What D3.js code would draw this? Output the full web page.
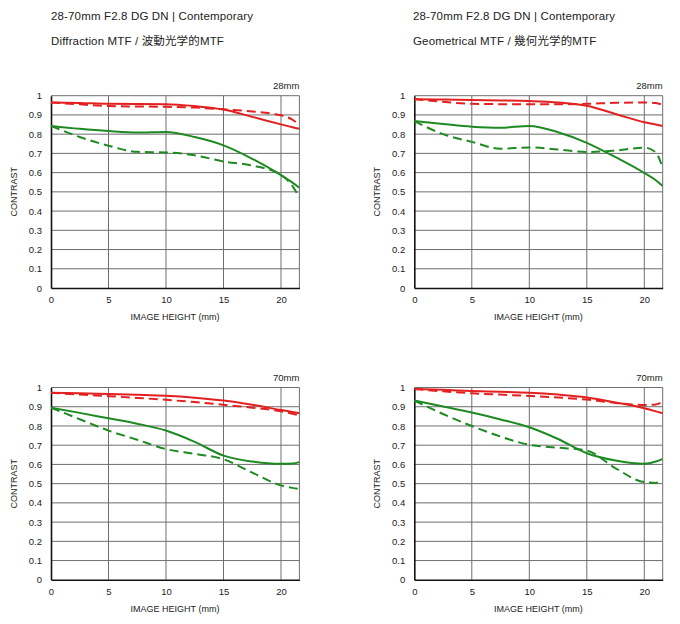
<!DOCTYPE html>
<html><head><meta charset="utf-8">
<script src="https://cdn.jsdelivr.net/npm/d3@7"></script>
<style>
body{margin:0;background:#fff;}
svg{display:block;}
text{font-family:"Liberation Sans",Arial,sans-serif;fill:#222;}
</style></head>
<body><svg id="c" width="680" height="624"></svg>
<script>
// ---- data ----
const lensTitle = "28-70mm F2.8 DG DN | Contemporary";
const panelTitles = ["Diffraction MTF / 波動光学的MTF", "Geometrical MTF / 幾何光学的MTF",
                     "", ""];
const focalLabels = ["28mm", "28mm", "70mm", "70mm"];
const xTicks = [0, 5, 10, 15, 20];
const yTicks = [0, 0.1, 0.2, 0.3, 0.4, 0.5, 0.6, 0.7, 0.8, 0.9, 1];
const xMax = 21.6;

// x positions (mm) for the sampled points
const xs = [0, 2.5, 5, 7.5, 10, 12.5, 15, 17.5, 20, 21, 21.6];

// Panel 1: Diffraction 28mm
const d28_red_solid   = [0.965, 0.962, 0.958, 0.957, 0.956, 0.946, 0.928, 0.89, 0.851, 0.836, 0.828];
const d28_red_dash    = [0.965, 0.955, 0.946, 0.944, 0.942, 0.938, 0.929, 0.918, 0.898, 0.875, 0.848];
const d28_green_solid = [0.843, 0.828, 0.816, 0.808, 0.811, 0.785, 0.742, 0.672, 0.587, 0.548, 0.521];
const d28_green_dash  = [0.843, 0.785, 0.74, 0.708, 0.705, 0.69, 0.658, 0.637, 0.588, 0.53, 0.47];
// Panel 2: Geometrical 28mm
const g28_red_solid   = [0.982, 0.98, 0.977, 0.975, 0.972, 0.965, 0.948, 0.905, 0.862, 0.85, 0.842];
const g28_red_dash    = [0.982, 0.968, 0.958, 0.956, 0.955, 0.955, 0.958, 0.963, 0.965, 0.962, 0.952];
const g28_green_solid = [0.868, 0.853, 0.839, 0.833, 0.843, 0.81, 0.755, 0.68, 0.598, 0.56, 0.53];
const g28_green_dash  = [0.868, 0.8, 0.76, 0.724, 0.731, 0.72, 0.707, 0.715, 0.73, 0.705, 0.622];
// Panel 3: Diffraction 70mm
const d70_red_solid   = [0.973, 0.97, 0.966, 0.962, 0.957, 0.947, 0.932, 0.91, 0.883, 0.873, 0.866];
const d70_red_dash    = [0.973, 0.963, 0.955, 0.946, 0.936, 0.924, 0.91, 0.895, 0.876, 0.864, 0.855];
const d70_green_solid = [0.895, 0.868, 0.84, 0.812, 0.776, 0.717, 0.646, 0.615, 0.603, 0.605, 0.612];
const d70_green_dash  = [0.895, 0.835, 0.776, 0.728, 0.68, 0.655, 0.627, 0.557, 0.491, 0.478, 0.472];
// Panel 4: Geometrical 70mm
const g70_red_solid   = [0.992, 0.988, 0.982, 0.978, 0.973, 0.963, 0.948, 0.922, 0.892, 0.876, 0.866];
const g70_red_dash    = [0.992, 0.98, 0.97, 0.963, 0.956, 0.948, 0.937, 0.92, 0.909, 0.912, 0.926];
const g70_green_solid = [0.932, 0.901, 0.87, 0.834, 0.793, 0.732, 0.658, 0.62, 0.603, 0.615, 0.629];
const g70_green_dash  = [0.932, 0.862, 0.8, 0.745, 0.702, 0.687, 0.672, 0.58, 0.508, 0.504, 0.52];

const panelSeries = [
  [d28_red_solid, d28_red_dash, d28_green_solid, d28_green_dash],
  [g28_red_solid, g28_red_dash, g28_green_solid, g28_green_dash],
  [d70_red_solid, d70_red_dash, d70_green_solid, d70_green_dash],
  [g70_red_solid, g70_red_dash, g70_green_solid, g70_green_dash]
];
const seriesColors = ["#e3201f", "#e3201f", "#1e8a22", "#1e8a22"];
const seriesDash = [null, "9,5", null, "9,5"];

// ---- layout ----
const panelX = [51, 414.3, 51, 414.3];
const panelY = [95.7, 95.7, 387.5, 387.5];
const pw = 248.4, ph = 192.3;

const svg = d3.select("#c");

// titles
[51, 413].forEach((tx, i) => {
  svg.append("text").attr("x", tx).attr("y", 19.5).attr("font-size", 11.5)
     .attr("letter-spacing", 0.15).text(lensTitle);
  svg.append("text").attr("x", tx).attr("y", 44.5).attr("font-size", 11.5)
     .attr("letter-spacing", 0.15)
     .style("font-family", "'Liberation Sans','Noto Sans CJK JP',sans-serif")
     .text(panelTitles[i]);
});

panelSeries.forEach((series, p) => {
  const g = svg.append("g").attr("transform", `translate(${panelX[p]},${panelY[p]})`);
  const x = d3.scaleLinear().domain([0, xMax]).range([0, pw]);
  const y = d3.scaleLinear().domain([0, 1]).range([ph, 0]);

  // horizontal grid
  g.append("g").selectAll("line").data(yTicks.filter(t => t > 0)).join("line")
    .attr("x1", 0).attr("x2", pw).attr("y1", d => y(d)).attr("y2", d => y(d))
    .attr("stroke", "#6e6e6e").attr("stroke-width", 1);
  // vertical grid
  g.append("g").selectAll("line").data(xTicks.filter(t => t > 0).concat([xMax])).join("line")
    .attr("x1", d => x(d)).attr("x2", d => x(d)).attr("y1", 0).attr("y2", ph)
    .attr("stroke", "#6e6e6e").attr("stroke-width", 1);

  // axes
  const yAxis = d3.axisLeft(y).tickValues(yTicks).tickSize(0).tickPadding(9)
    .tickFormat(d => d3.format("~g")(d));
  const ya = g.append("g").call(yAxis);
  ya.select(".domain").attr("stroke", "#111").attr("stroke-width", 1.6);
  ya.selectAll("text").attr("font-size", 9.5).attr("fill", "#222")
    .style("font-family", "'Liberation Sans',Arial,sans-serif");

  const xAxis = d3.axisBottom(x).tickValues(xTicks).tickSize(0).tickPadding(8)
    .tickFormat(d3.format("d"));
  const xa = g.append("g").attr("transform", `translate(0,${ph})`).call(xAxis);
  xa.select(".domain").attr("stroke", "#111").attr("stroke-width", 1.6);
  xa.selectAll("text").attr("font-size", 9.5).attr("fill", "#222")
    .style("font-family", "'Liberation Sans',Arial,sans-serif");

  // axis titles
  g.append("text").attr("x", 124).attr("y", ph + 32).attr("text-anchor", "middle")
    .attr("font-size", 9).text("IMAGE HEIGHT (mm)");
  g.append("text").attr("transform", `translate(-34,${ph / 2}) rotate(-90)`)
    .attr("text-anchor", "middle").attr("font-size", 9).text("CONTRAST");
  g.append("text").attr("x", pw).attr("y", -7).attr("text-anchor", "end")
    .attr("font-size", 9.5).text(focalLabels[p]);

  // curves
  const line = d3.line().x((d, i) => x(xs[i])).y(d => y(d)).curve(d3.curveMonotoneX);
  const clip = "clip" + p;
  g.append("clipPath").attr("id", clip).append("rect")
    .attr("x", 0).attr("y", -5).attr("width", pw).attr("height", ph + 5);
  series.forEach((vals, s) => {
    g.append("path").datum(vals).attr("d", line)
      .attr("clip-path", `url(#${clip})`)
      .attr("fill", "none").attr("stroke", seriesColors[s]).attr("stroke-width", 2)
      .attr("stroke-dasharray", seriesDash[s]);
  });
});
</script></body></html>
